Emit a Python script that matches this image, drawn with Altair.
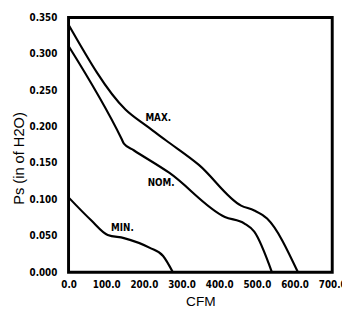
import altair as alt
import pandas as pd

# MAX curve
max_cfm = [0, 151, 207, 259, 346, 458, 493, 527, 609]
max_ps = [0.340, 0.2236, 0.201, 0.181, 0.1475, 0.0916, 0.0849, 0.0738, 0.0]
# NOM curve
nom_cfm = [0, 141, 147, 173, 268, 415, 467, 493, 540]
nom_ps = [0.3107, 0.183, 0.1766, 0.1676, 0.1364, 0.076, 0.067, 0.0559, 0.0]
# MIN curve
min_cfm = [0, 60, 104, 147, 216, 251, 277]
min_ps = [0.1029, 0.0715, 0.0514, 0.047, 0.0335, 0.0224, 0.0]

label_text = ["MAX.", "NOM.", "MIN."]
label_cfm = [238, 246, 143]
label_ps = [0.2115, 0.123, 0.0603]

x_ticks = [0, 100, 200, 300, 400, 500, 600, 700]
y_ticks = [0.0, 0.05, 0.1, 0.15, 0.2, 0.25, 0.3, 0.35]

rows = []
for name, xs, ys in [("MAX", max_cfm, max_ps), ("NOM", nom_cfm, nom_ps), ("MIN", min_cfm, min_ps)]:
    for i, (a, b) in enumerate(zip(xs, ys)):
        rows.append({"curve": name, "cfm": a, "ps": b, "order": i})
df = pd.DataFrame(rows)
lab = pd.DataFrame({"text": label_text, "cfm": label_cfm, "ps": label_ps})

tick_font = "Liberation Sans Narrow, DejaVu Sans Condensed, sans-serif"

x = alt.X("cfm:Q", scale=alt.Scale(domain=[0, 700], nice=False),
          axis=alt.Axis(values=x_ticks, format=".1f", title="CFM", grid=False,
                        domain=False, ticks=False, labelPadding=8,
                        labelFont=tick_font, labelFontWeight="bold", labelFontSize=10,
                        labelColor="black", labelFlush=False, labelOverlap=False,
                        titleFont="Liberation Sans", titleFontWeight="normal",
                        titleFontSize=14, titleColor="black", titlePadding=5))
y = alt.Y("ps:Q", scale=alt.Scale(domain=[0, 0.35], nice=False),
          axis=alt.Axis(values=y_ticks, format=".3f", title="Ps (in of H2O)", grid=False,
                        domain=False, ticks=False, labelPadding=12,
                        labelFont=tick_font, labelFontWeight="bold", labelFontSize=10,
                        labelColor="black", labelFlush=False, labelOverlap=False,
                        titleFont="Liberation Sans", titleFontWeight="normal",
                        titleFontSize=15, titleColor="black",
                        titleX=-51, titleY=144, titleAngle=270, titleAlign="center",
                        titleBaseline="middle"))

lines = alt.Chart(df).mark_line(color="black", strokeWidth=2.2, interpolate="monotone").encode(
    x=x, y=y, detail="curve:N", order="order:Q")

texts = alt.Chart(lab).mark_text(font=tick_font, fontWeight="bold", fontSize=10, color="black").encode(
    x=x, y=y, text="text:N")

chart = (lines + texts).properties(
    width=270, height=261,
    autosize=alt.AutoSizeParams(type="none"),
    padding={"left": 62, "top": 6, "right": 10, "bottom": 38},
    background="white",
).configure_view(stroke="black", strokeWidth=3).configure_axis(labelOverlap=False)

chart.save("out.html", embed_options={"renderer": "svg", "actions": False})
